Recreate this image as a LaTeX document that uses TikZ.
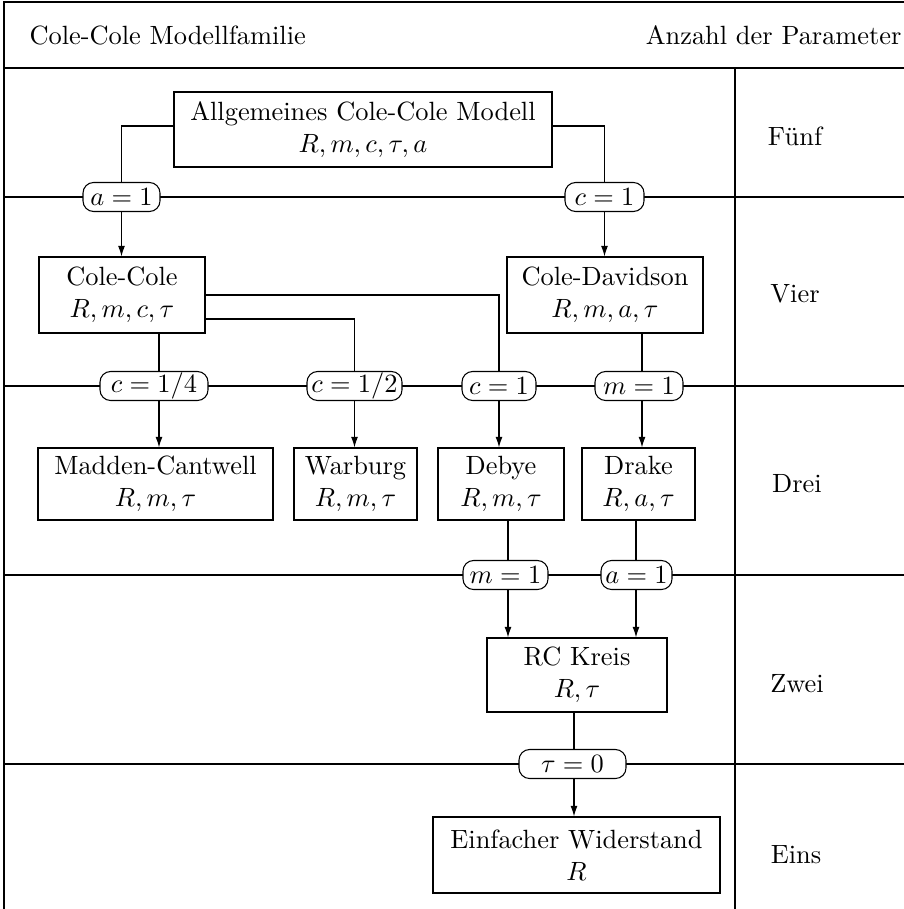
\documentclass[tikz,border=0pt]{standalone}
\usepackage{fontspec}
\usetikzlibrary{arrows.meta}
\pgfdeclarelayer{bg}
\pgfsetlayers{bg,main}
\begin{document}
\begin{tikzpicture}[x=0.379pt,y=-0.379pt,
  txt/.style={inner sep=0pt},
  box/.style={draw, align=center, inner sep=0pt},
  bw/.style={minimum width=#1*0.379pt},
  bh/.style={minimum height=#1*0.379pt},
  lab/.style={draw, fill=white, rounded corners=4pt, inner sep=0pt, minimum height=29*0.379pt},
  arr/.style={-{Latex[length=4pt,width=2.6pt]}},
  frame/.style={line width=0.4pt}]
\useasboundingbox (0,0) rectangle (904,909);
% frame and separators
\begin{pgfonlayer}{bg}
\draw[frame] (4,909) -- (4,2) -- (904,2);
\draw[frame] (4,68) -- (904,68);
\draw[frame] (735,68) -- (735,909);
\foreach \y in {197,386,575,764} \draw[frame] (4,\y) -- (904,\y);
\end{pgfonlayer}
% headings
\node[txt, anchor=west] (title) at (29,35) {Cole-Cole Modellfamilie};
\node[txt, anchor=east] (ptitle) at (902,35) {Anzahl der Parameter};
\node[txt] (n5) at (795,136) {Fünf};
\node[txt] (n4) at (795,294) {Vier};
\node[txt] (n3) at (797,484) {Drei};
\node[txt] (n2) at (797,684) {Zwei};
\node[txt] (n1) at (796,855) {Eins};
% boxes
\node[box, bw=378, bh=75] (allg) at (363,129.5) {Allgemeines Cole-Cole Modell\\$R,m,c,\tau,a$};
\node[box, bw=166, bh=76] (cc) at (122,295) {Cole-Cole\\$R,m,c,\tau$};
\node[box, bw=196, bh=76] (cd) at (605,295) {Cole-Davidson\\$R,m,a,\tau$};
\node[box, bw=235, bh=72] (mc) at (155.5,484) {Madden-Cantwell\\$R,m,\tau$};
\node[box, bw=123, bh=72] (wb) at (355.5,484) {Warburg\\$R,m,\tau$};
\node[box, bw=126, bh=72] (db) at (501,484) {Debye\\$R,m,\tau$};
\node[box, bw=113, bh=72] (dr) at (638.5,484) {Drake\\$R,a,\tau$};
\node[box, bw=180, bh=74] (rc) at (577,675) {RC Kreis\\$R,\tau$};
\node[box, bw=287, bh=76] (ew) at (576.5,855) {Einfacher Widerstand\\$R$};
% condition labels
\node[lab, bw=77] (la1) at (121.5,197) {$a=1$};
\node[lab, bw=79] (lc1a) at (604.5,197) {$c=1$};
\node[lab, bw=108] (lc14) at (154,386) {$c=1/4$};
\node[lab, bw=95] (lc12) at (354.5,386) {$c=1/2$};
\node[lab, bw=74] (lc1b) at (499,386) {$c=1$};
\node[lab, bw=88] (lm1a) at (639,386) {$m=1$};
\node[lab, bw=85] (lm1b) at (505.5,575) {$m=1$};
\node[lab, bw=71] (la1b) at (636.5,575) {$a=1$};
\node[lab, bw=107] (lt0) at (572.5,764) {$\tau=0$};
% column coordinates
\coordinate (xC) at (159,0);
\coordinate (xF) at (642,0);
\coordinate (xG) at (508,0);
\coordinate (xH) at (636,0);
\coordinate (xI) at (574,0);
% connectors
\draw (allg.west |- 0,126) -| (la1.north);
\draw[arr] (la1.south) -- (la1.south |- cc.north);
\draw (allg.east |- 0,126) -| (lc1a.north);
\draw[arr] (lc1a.south) -- (lc1a.south |- cd.north);
\draw (cc.south -| xC) -- (lc14.north -| xC);
\draw[arr] (lc14.south -| xC) -- (mc.north -| xC);
\draw (cc.east |- 0,319) -| (lc12.north);
\draw[arr] (lc12.south) -- (lc12.south |- wb.north);
\draw (cc.east |- 0,295) -| (lc1b.north);
\draw[arr] (lc1b.south) -- (lc1b.south |- db.north);
\draw (cd.south -| xF) -- (lm1a.north -| xF);
\draw[arr] (lm1a.south -| xF) -- (dr.north -| xF);
\draw (db.south -| xG) -- (lm1b.north -| xG);
\draw[arr] (lm1b.south -| xG) -- (rc.north -| xG);
\draw (dr.south -| xH) -- (la1b.north -| xH);
\draw[arr] (la1b.south -| xH) -- (rc.north -| xH);
\draw (rc.south -| xI) -- (lt0.north -| xI);
\draw[arr] (lt0.south -| xI) -- (ew.north -| xI);
\end{tikzpicture}
\end{document}
